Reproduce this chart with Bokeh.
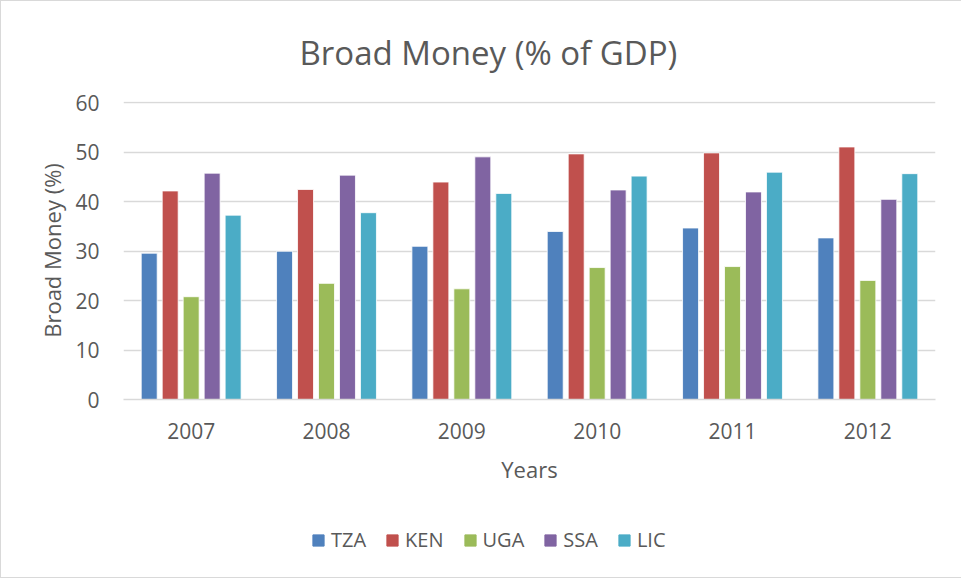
from bokeh.plotting import figure
from bokeh.layouts import column
from bokeh.models import ColumnDataSource, FactorRange, FixedTicker, Title, Legend, LegendItem
from bokeh.transform import dodge
from bokeh.embed import file_html
from bokeh.resources import INLINE

years = ["2007", "2008", "2009", "2010", "2011", "2012"]
series_names = ["TZA", "KEN", "UGA", "SSA", "LIC"]
TZA = [29.6, 30.0, 31.0, 34.0, 34.7, 32.7]
KEN = [42.2, 42.5, 44.0, 49.7, 49.9, 51.1]
UGA = [20.8, 23.5, 22.4, 26.7, 26.9, 24.1]
SSA = [45.8, 45.4, 49.1, 42.4, 42.0, 40.5]
LIC = [37.3, 37.8, 41.7, 45.2, 46.0, 45.7]
y_ticks = [0, 10, 20, 30, 40, 50, 60]

colors = ["#4F81BD", "#C0504D", "#9BBB59", "#8064A2", "#4BACC6"]
FONT = "Open Sans"
TXT = "#595959"

source = ColumnDataSource(data=dict(year=years, TZA=TZA, KEN=KEN, UGA=UGA, SSA=SSA, LIC=LIC))

p = figure(width=960, height=505, x_range=FactorRange(*years), y_range=(0, 60.3),
           output_backend="svg", toolbar_location=None,
           min_border_left=122, min_border_right=26, min_border_top=99, min_border_bottom=107)
p.title.visible = False
p.outline_line_color = None
p.background_fill_color = "white"
p.border_fill_color = "white"

offsets = [-0.31, -0.155, 0.0, 0.155, 0.31]
for name, off, col in zip(series_names, offsets, colors):
    p.vbar(x=dodge("year", off, range=p.x_range), top=name, width=0.118, source=source,
           fill_color=col, line_color="white", line_width=0.8)

p.xgrid.grid_line_color = None
p.ygrid.grid_line_color = "#d9d9d9"
p.ygrid.grid_line_width = 1.5
p.yaxis.ticker = FixedTicker(ticks=y_ticks)

for ax in (p.xaxis, p.yaxis):
    ax.major_tick_line_color = None
    ax.minor_tick_line_color = None
    ax.major_label_text_font = FONT
    ax.major_label_text_font_size = "21px"
    ax.major_label_text_color = TXT
    ax.axis_label_text_font = FONT
    ax.axis_label_text_font_style = "normal"
    ax.axis_label_text_color = TXT
    ax.axis_label_text_font_size = "22px"
p.yaxis.axis_line_color = None
p.xaxis.axis_line_color = "#d9d9d9"
p.xaxis.axis_line_width = 1.5
p.xaxis.major_label_standoff = 17
p.yaxis.major_label_standoff = 18
p.xaxis.axis_label = "Years"
p.yaxis.axis_label = "Broad Money (%)"
p.xaxis.axis_label_standoff = 12
p.yaxis.axis_label_standoff = 5

title = Title(text="Broad Money (% of GDP)", align="left", offset=176, text_font=FONT,
              text_font_size="33px", text_font_style="normal", text_color=TXT, standoff=53)
p.add_layout(title, "above")

# legend strip below the chart (legend proxies are hidden, zero-height)
p2 = figure(width=960, height=71, x_range=(0, 1), y_range=(0, 1),
            output_backend="svg", toolbar_location=None, min_border=0)
p2.axis.visible = False
p2.grid.grid_line_color = None
p2.outline_line_color = None
p2.title.visible = False
p2.background_fill_color = "white"
p2.border_fill_color = "white"
items = []
for name, col in zip(series_names, colors):
    r = p2.vbar(x=[0], top=[0], width=0, fill_color=col, line_color=col, visible=False)
    items.append(LegendItem(label=name, renderers=[r]))
legend = Legend(items=items, location=(188, 24), orientation="horizontal",
                border_line_color=None, background_fill_alpha=0, padding=0, margin=0,
                glyph_width=14, glyph_height=14, label_height=20, label_standoff=6, spacing=19,
                label_text_font=FONT, label_text_font_size="20px", label_text_color=TXT)
p2.add_layout(legend, "center")

layout = column(p, p2, spacing=0,
                styles={"border-left": "1px solid #d9d9d9", "border-top": "1px solid #d9d9d9",
                        "border-bottom": "1px solid #d9d9d9"})

open("out.html", "w").write(file_html(layout, INLINE))
